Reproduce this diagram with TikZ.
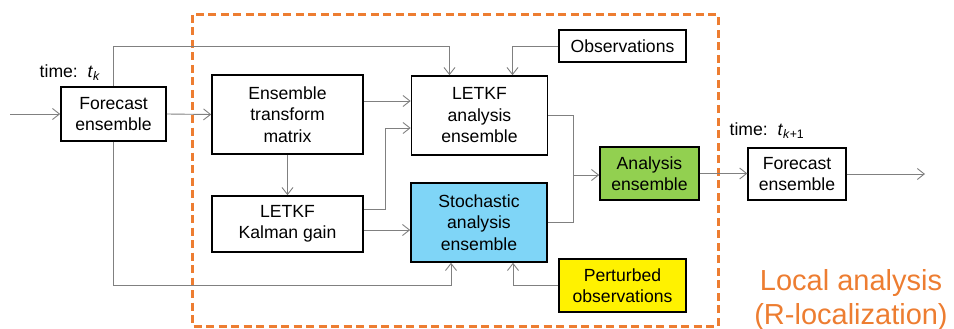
\documentclass[tikz,border=0pt]{standalone}
\usepackage{fontspec}
\setmainfont{Liberation Sans}
\usetikzlibrary{arrows.meta}
\definecolor{locorange}{HTML}{ED7D31}
\definecolor{anagreen}{HTML}{92D050}
\definecolor{stochblue}{HTML}{7FD5F7}
\definecolor{flowgray}{HTML}{808080}
\tikzset{
  box/.style={draw,line width=1.6pt,inner sep=0pt,align=center,
    font=\fontsize{17.6}{21.5}\selectfont},
  flow/.style={draw=flowgray,line width=0.9pt,-{Straight Barb[length=7pt,width=11pt,line width=0.9pt]}},
  wire/.style={draw=flowgray,line width=0.9pt}
}
\begin{document}
\begin{tikzpicture}[x=1pt,y=-1pt]
\useasboundingbox (0,0) rectangle (954,329);
% local analysis region
\draw[locorange,line width=3pt,dash pattern=on 8pt off 4.5pt] (192,15) rectangle (718,326);
\node[text=locorange,align=center,font=\fontsize{29}{34}\selectfont](region) at (851,300) {Local analysis\\(R-localization)};

\node[box,minimum width=105,minimum height=54](fcst) at (113.5,114) {Forecast\\ensemble};
\node[box,minimum width=151,minimum height=79](etm) at (287.5,114.5) {Ensemble\\transform\\matrix};
\node[box,minimum width=136,minimum height=79](ana) at (479.5,115.5) {LETKF\\analysis\\ensemble};
\node[box,line width=1.3pt,minimum width=127,minimum height=32](obs) at (622.5,46) {Observations};
\node[box,minimum width=151,minimum height=56](gain) at (287.5,224) {LETKF\\Kalman gain};
\node[box,fill=stochblue,minimum width=136,minimum height=79](stoch) at (479,222.5) {Stochastic\\analysis\\ensemble};
\node[box,fill=yellow,minimum width=127,minimum height=53](pobs) at (622.5,285.5) {Perturbed\\observations};
\node[box,fill=anagreen,minimum width=99,minimum height=53](anens) at (649.5,173.5) {Analysis\\ensemble};
\node[box,line width=1.3pt,minimum width=98,minimum height=52](fcstnext) at (797,174) {Forecast\\ensemble};

\node[font=\fontsize{17.6}{20}\selectfont](tk) at (70,73) {time:~~\textit{t}\textsubscript{\textit{k}}};
\node[font=\fontsize{17.6}{20}\selectfont](tknext) at (767,131) {time:~~\textit{t}\textsubscript{\textit{k}+1}};

\coordinate (in) at (10,114);
\coordinate (out) at (925,174);
\coordinate (join) at (573,175);

\draw[flow] (in) -- (fcst.west);
\draw[flow] (fcst.east) -- (etm.west);
\draw[flow] (fcst.north) -- (fcst.north |- obs) -| ([xshift=-30pt]ana.north);
\draw[flow] (obs.west) -| ([xshift=33pt]ana.north);
\draw[flow] ([yshift=13.5pt]etm.east) -- ([yshift=13.5pt]etm.east -| ana.west);
\draw[flow] ([yshift=15pt]gain.east) -- ++(22,0) |- ([yshift=-12.5pt]ana.west);
\draw[flow] (etm.south) -- (gain.north);
\draw[flow] ([yshift=-6pt]gain.east) -- ([yshift=-6pt]gain.east -| stoch.west);
\draw[flow] (fcst.south) -- (fcst.south |- pobs.west) -| ([xshift=-28pt]stoch.south);
\draw[flow] (pobs.west) -| ([xshift=34pt]stoch.south);
\draw[wire] (ana.east) -| (join);
\draw[wire] (stoch.east) -| (join);
\draw[flow] (join) -- (join -| anens.west);
\draw[flow] (anens.east) -- (anens.east -| fcstnext.west);
\draw[flow] (fcstnext.east) -- (out);
\end{tikzpicture}
\end{document}
